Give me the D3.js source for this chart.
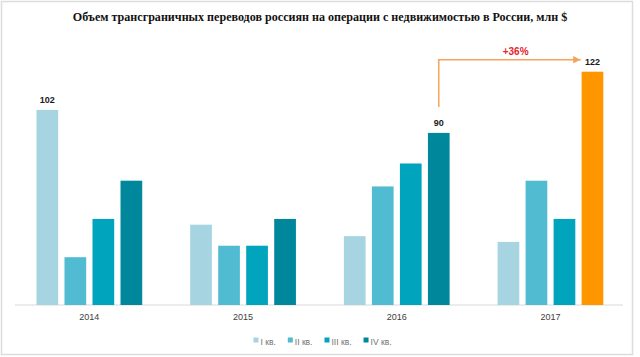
<!DOCTYPE html>
<html>
<head>
<meta charset="utf-8">
<script src="https://cdn.jsdelivr.net/npm/d3@7"></script>
<style>
html,body{margin:0;padding:0;background:#fff;}
svg{display:block;}
</style>
</head>
<body>
<svg id="chart" width="640" height="357"></svg>
<script>
const title = "Объем трансграничных переводов россиян на операции с недвижимостью в России, млн $";
const years = ["2014", "2015", "2016", "2017"];
const quarters = ["I кв.", "II кв.", "III кв.", "IV кв."];
const q1Values = [102, 42, 36, 33];
const q2Values = [25, 31, 62, 65];
const q3Values = [45, 31, 74, 45];
const q4Values = [65, 45, 90, 122];
const colors = ["#a6d5e1", "#51bcd1", "#00a4bd", "#00879c"];
const highlightColor = "#ff9600";
const labelled = [["2014", 0], ["2016", 3], ["2017", 3]];
const growthLabel = "+36%";

const series = [q1Values, q2Values, q3Values, q4Values];
const data = [];
years.forEach((y, i) => series.forEach((s, j) => data.push({year: y, q: j, value: s[i]})));

const svg = d3.select("#chart");

// outer border
svg.append("rect").attr("x", 1.5).attr("y", 1.5).attr("width", 631).attr("height", 353)
  .attr("fill", "none").attr("stroke", "#dcdcdc").attr("stroke-width", 1.5);

const y = d3.scaleLinear().domain([0, 122]).range([305, 71.7]);
const x0 = d3.scaleBand().domain(years).range([12.5, 627.3]).paddingInner(0.312).paddingOuter(0.156);
const x1 = d3.scaleBand().domain(d3.range(4)).range([0, x0.bandwidth()]).paddingInner(0.225).paddingOuter(0);

// axis baseline
svg.append("line").attr("x1", 15).attr("x2", 623).attr("y1", y(0)).attr("y2", y(0))
  .attr("stroke", "#d9d9d9").attr("stroke-width", 1);

// bars
svg.append("g").selectAll("rect").data(data).join("rect")
  .attr("x", d => x0(d.year) + x1(d.q))
  .attr("y", d => y(d.value))
  .attr("width", x1.bandwidth())
  .attr("height", d => y(0) - y(d.value))
  .attr("fill", d => (d.year === "2017" && d.q === 3) ? highlightColor : colors[d.q]);

// x axis labels
const xAxis = d3.axisBottom(x0).tickSize(0).tickPadding(9);
const gx = svg.append("g").attr("transform", `translate(0,${y(0)})`).call(xAxis);
gx.select(".domain").remove();
gx.selectAll("text").attr("font-family", "'Liberation Sans', Arial, sans-serif")
  .attr("font-size", 9).attr("fill", "#404040");

// value labels
labelled.forEach(([yr, q]) => {
  const v = series[q][years.indexOf(yr)];
  svg.append("text")
    .attr("x", x0(yr) + x1(q) + x1.bandwidth() / 2)
    .attr("y", y(v) - 7)
    .attr("text-anchor", "middle")
    .attr("font-family", "'Liberation Sans', Arial, sans-serif")
    .attr("font-weight", "bold").attr("font-size", 9).attr("fill", "#1a1a1a")
    .text(v);
});

// growth arrow
const ax = x0("2016") + x1(3) + x1.bandwidth() / 2;
const bx = x0("2017") + x1(3);
const ay = y(90) - 26;
const hy = y(122) - 12;
const arrowColor = "#f6a45a";
svg.append("defs").append("marker").attr("id", "ah")
  .attr("viewBox", "0 0 10 10").attr("refX", 10).attr("refY", 5)
  .attr("markerWidth", 5).attr("markerHeight", 5).attr("orient", "auto")
  .append("path").attr("d", "M0,0 L10,5 L0,10 Z").attr("fill", arrowColor);
svg.append("path")
  .attr("d", `M${ax},${ay} L${ax},${hy} L${bx - 1},${hy}`)
  .attr("fill", "none").attr("stroke", arrowColor).attr("stroke-width", 1.5)
  .attr("marker-end", "url(#ah)");
svg.append("text")
  .attr("x", (ax + x0("2017") + x1(3) + x1.bandwidth() / 2) / 2)
  .attr("y", hy - 5)
  .attr("text-anchor", "middle")
  .attr("font-family", "'Liberation Sans', Arial, sans-serif")
  .attr("font-weight", "bold").attr("font-size", 10).attr("fill", "#e3262b")
  .text(growthLabel);

// title
const t = svg.append("text")
  .attr("x", 320).attr("y", 21).attr("text-anchor", "middle")
  .attr("font-family", "'Liberation Serif', 'Times New Roman', serif")
  .attr("font-weight", "bold").attr("font-size", 13).attr("fill", "#111")
  .text(title);
const tw = t.node().getComputedTextLength();
t.attr("font-size", 13 * 495 / tw);

// legend
const lg = svg.append("g").attr("font-family", "'Liberation Sans', Arial, sans-serif")
  .attr("font-size", 8.5).attr("fill", "#707070");
let cx = 0;
quarters.forEach((q, i) => {
  const g = lg.append("g").attr("transform", `translate(${cx},0)`);
  g.append("rect").attr("x", 0).attr("y", -4.5).attr("width", 5).attr("height", 5).attr("fill", colors[i]);
  const tx = g.append("text").attr("x", 7).attr("y", 2.5).text(q);
  cx += 7 + tx.node().getComputedTextLength() + 12;
});
const lw = cx - 12;
lg.attr("transform", `translate(${322.5 - lw / 2},342)`);
</script>
</body>
</html>
